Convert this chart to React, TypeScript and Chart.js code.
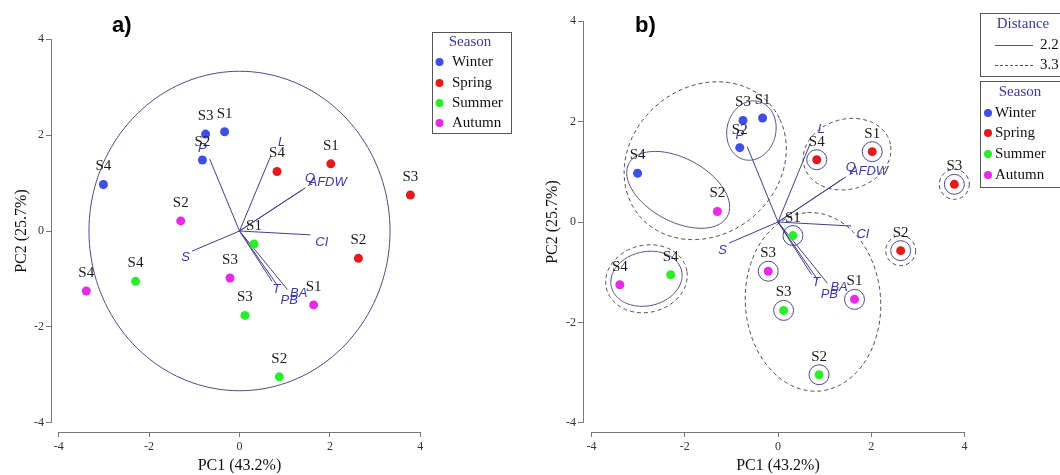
import React, { useEffect, useRef } from "react";
import { Chart, registerables } from "chart.js";

Chart.register(...registerables);

// ---------------- data ----------------
const seasonNames = ["Winter", "Spring", "Summer", "Autumn"];

const winterSites = ["S1", "S3", "S2", "S4"];
const winterPC1 = [-0.33, -0.75, -0.82, -3.01];
const winterPC2 = [2.07, 2.02, 1.48, 0.97];

const springSites = ["S1", "S4", "S3", "S2"];
const springPC1 = [2.02, 0.83, 3.78, 2.63];
const springPC2 = [1.4, 1.24, 0.75, -0.57];

const summerSites = ["S1", "S4", "S3", "S2"];
const summerPC1 = [0.32, -2.3, 0.12, 0.88];
const summerPC2 = [-0.27, -1.05, -1.76, -3.04];

const autumnSites = ["S2", "S4", "S3", "S1"];
const autumnPC1 = [-1.3, -3.39, -0.21, 1.64];
const autumnPC2 = [0.21, -1.25, -0.98, -1.54];

const variableNames = ["P", "L", "Q", "AFDW", "CI", "S", "T", "PB", "BA"];
const loadingPC1 = [-0.66, 0.69, 1.46, 1.39, 1.57, -1.05, 0.72, 0.85, 1.06];
const loadingPC2 = [1.5, 1.56, 0.9, 0.86, -0.08, -0.42, -1.05, -1.15, -1.22];
const variableLabelPC1 = [-0.82, 0.93, 1.56, 1.95, 1.82, -1.19, 0.82, 1.1, 1.31];
const variableLabelPC2 = [1.73, 1.85, 1.09, 1.01, -0.24, -0.56, -1.21, -1.45, -1.31];

const axisTicks = [-4, -2, 0, 2, 4];
const correlationCircleRadius = 3.33;

const distanceLevels = ["2.2", "3.3"];
// grouped-sample outlines for panel b (PC units)
const clusterLevel = ["3.3", "2.2", "2.2", "3.3", "2.2", "3.3", "3.3"];
const clusterCenterPC1 = [-1.56, -0.57, -2.14, 1.48, -2.82, -2.82, 0.75];
const clusterCenterPC2 = [1.22, 1.82, 0.64, 1.35, -1.13, -1.13, -1.59];
const clusterMajor = [1.8, 0.6, 1.18, 0.95, 0.77, 0.88, 1.78];
const clusterMinor = [1.5, 0.52, 0.64, 0.7, 0.54, 0.67, 1.45];
const clusterAngle = [28, 70, -25, 12, 10, 10, 95];
// single samples that form their own group (season index, site)
const single22Season = [1, 1, 1, 1, 2, 2, 2, 3, 3];
const single22Site = ["S4", "S1", "S3", "S2", "S1", "S3", "S2", "S3", "S1"];
const single33Season = [1, 1];
const single33Site = ["S3", "S2"];

// ---------------- styles ----------------
const seasonColors = ["#3d4fe4", "#e41b1e", "#2bee2b", "#e62ae6"];
const VEC = "#3f3f8e";
const VEC_TEXT = "#3b3ba6";
const SERIF = "'Liberation Serif', 'Times New Roman', serif";
const SANS = "'Liberation Sans', Arial, sans-serif";

const seasonData = [
  { sites: winterSites, pc1: winterPC1, pc2: winterPC2 },
  { sites: springSites, pc1: springPC1, pc2: springPC2 },
  { sites: summerSites, pc1: summerPC1, pc2: summerPC2 },
  { sites: autumnSites, pc1: autumnPC1, pc2: autumnPC2 },
];

function buildDatasets() {
  const ds: any[] = seasonNames.map((name, s) => ({
    label: name,
    data: seasonData[s].pc1.map((x, i) => ({ x, y: seasonData[s].pc2[i] })),
    backgroundColor: seasonColors[s],
    borderColor: seasonColors[s],
    borderWidth: 0,
    pointRadius: 4.5,
    pointHoverRadius: 4.5,
    showLine: false,
  }));
  variableNames.forEach((v, i) => {
    ds.push({
      label: v,
      data: [
        { x: 0, y: 0 },
        { x: loadingPC1[i], y: loadingPC2[i] },
      ],
      showLine: true,
      borderColor: VEC,
      backgroundColor: VEC,
      borderWidth: 1,
      pointRadius: 0,
      pointHoverRadius: 0,
    });
  });
  return ds;
}

function traceEllipse(ctx: CanvasRenderingContext2D, xs: any, ys: any, cx: number, cy: number, rx: number, ry: number, angDeg: number) {
  const a = (angDeg * Math.PI) / 180;
  ctx.beginPath();
  const n = 160;
  for (let i = 0; i <= n; i++) {
    const t = (i / n) * Math.PI * 2;
    const dx = rx * Math.cos(t) * Math.cos(a) - ry * Math.sin(t) * Math.sin(a);
    const dy = rx * Math.cos(t) * Math.sin(a) + ry * Math.sin(t) * Math.cos(a);
    const px = xs.getPixelForValue(cx + dx);
    const py = ys.getPixelForValue(cy + dy);
    if (i === 0) ctx.moveTo(px, py);
    else ctx.lineTo(px, py);
  }
  ctx.closePath();
  ctx.stroke();
}

function setStroke(ctx: CanvasRenderingContext2D, level: string) {
  if (level === distanceLevels[0]) {
    ctx.setLineDash([]);
    ctx.strokeStyle = "#4a4a90";
  } else {
    ctx.setLineDash([4, 3]);
    ctx.strokeStyle = "#4a4a4a";
  }
  ctx.lineWidth = 1;
}

function drawSeasonLegend(ctx: CanvasRenderingContext2D, bx: number, by: number, bw: number, bh: number, titleX: number, titleY: number, rowYs: number[], dotX: number, textX: number) {
  ctx.save();
  ctx.setLineDash([]);
  ctx.strokeStyle = "#555";
  ctx.lineWidth = 1;
  ctx.strokeRect(bx, by, bw, bh);
  ctx.font = `15px ${SERIF}`;
  ctx.textBaseline = "middle";
  ctx.textAlign = "center";
  ctx.fillStyle = "#3a3a9e";
  ctx.fillText("Season", titleX, titleY);
  ctx.textAlign = "left";
  seasonNames.forEach((name, s) => {
    ctx.fillStyle = seasonColors[s];
    ctx.beginPath();
    ctx.arc(dotX, rowYs[s], 4, 0, Math.PI * 2);
    ctx.fill();
    ctx.fillStyle = "#111";
    ctx.fillText(name, textX, rowYs[s]);
  });
  ctx.restore();
}

function makePlugin(panel: "a" | "b") {
  return {
    id: "pca_" + panel,
    beforeDatasetsDraw(chart: any) {
      const ctx: CanvasRenderingContext2D = chart.ctx;
      const xs = chart.scales.x;
      const ys = chart.scales.y;
      const ca = chart.chartArea;
      ctx.save();
      // detached axis lines (from -4 to 4)
      ctx.strokeStyle = "#777";
      ctx.lineWidth = 1;
      ctx.beginPath();
      const xl = Math.round(ca.left) + 0.5;
      const yb = Math.round(ca.bottom) + 0.5;
      ctx.moveTo(xs.getPixelForValue(axisTicks[0]), yb);
      ctx.lineTo(xs.getPixelForValue(axisTicks[axisTicks.length - 1]), yb);
      ctx.moveTo(xl, ys.getPixelForValue(axisTicks[0]));
      ctx.lineTo(xl, ys.getPixelForValue(axisTicks[axisTicks.length - 1]));
      ctx.stroke();

      if (panel === "a") {
        setStroke(ctx, distanceLevels[0]);
        traceEllipse(ctx, xs, ys, 0, 0, correlationCircleRadius, correlationCircleRadius, 0);
      } else {
        clusterLevel.forEach((lvl, i) => {
          setStroke(ctx, lvl);
          traceEllipse(ctx, xs, ys, clusterCenterPC1[i], clusterCenterPC2[i], clusterMajor[i], clusterMinor[i], clusterAngle[i]);
        });
        const ring = (seasonIdx: number, site: string, r: number, lvl: string) => {
          const d = seasonData[seasonIdx];
          const k = d.sites.indexOf(site);
          const el = chart.getDatasetMeta(seasonIdx).data[k];
          setStroke(ctx, lvl);
          ctx.beginPath();
          ctx.arc(el.x, el.y, r, 0, Math.PI * 2);
          ctx.stroke();
        };
        single22Season.forEach((s, i) => ring(s, single22Site[i], 10, distanceLevels[0]));
        single33Season.forEach((s, i) => ring(s, single33Site[i], 15, distanceLevels[1]));
      }
      ctx.restore();
    },
    afterDatasetsDraw(chart: any) {
      const ctx: CanvasRenderingContext2D = chart.ctx;
      const xs = chart.scales.x;
      const ys = chart.scales.y;
      ctx.save();
      // variable labels
      ctx.font = `italic 13px ${SANS}`;
      ctx.fillStyle = VEC_TEXT;
      ctx.textAlign = "center";
      ctx.textBaseline = "middle";
      variableNames.forEach((v, i) => {
        ctx.fillText(v, xs.getPixelForValue(variableLabelPC1[i]), ys.getPixelForValue(variableLabelPC2[i]));
      });
      // sample labels
      ctx.font = `15px ${SERIF}`;
      ctx.fillStyle = "#1a1a1a";
      seasonNames.forEach((_, s) => {
        const meta = chart.getDatasetMeta(s);
        meta.data.forEach((el: any, i: number) => {
          ctx.fillText(seasonData[s].sites[i], el.x, el.y - 18);
        });
      });

      // legends
      if (panel === "a") {
        drawSeasonLegend(ctx, 432.5, 32.5, 79, 101, 470, 42, [62, 83, 103, 123], 439.5, 452);
      } else {
        ctx.setLineDash([]);
        ctx.strokeStyle = "#555";
        ctx.lineWidth = 1;
        ctx.strokeRect(450.5, 13.5, 100, 63);
        ctx.font = `15px ${SERIF}`;
        ctx.textAlign = "center";
        ctx.fillStyle = "#3a3a9e";
        ctx.fillText("Distance", 493, 24);
        distanceLevels.forEach((lvl, i) => {
          const y = 45 + i * 20;
          ctx.save();
          ctx.strokeStyle = "#555";
          ctx.setLineDash(i === 0 ? [] : [3, 2]);
          ctx.beginPath();
          ctx.moveTo(465, y + 0.5);
          ctx.lineTo(503, y + 0.5);
          ctx.stroke();
          ctx.restore();
          ctx.textAlign = "left";
          ctx.fillStyle = "#111";
          ctx.fillText(lvl, 510, y);
        });
        drawSeasonLegend(ctx, 450.5, 81.5, 100, 106, 490, 92, [113, 133, 154, 175], 458, 465);
      }
      ctx.restore();
    },
  };
}

const panels = {
  a: { padTop: 30, padRight: 102, yWidth: 51, yTitlePad: 12, xMin: -4.17, xMax: 4.17, yMin: -4.19, yMax: 4.19 },
  b: { padTop: 12, padRight: 87, yWidth: 53, yTitlePad: 13, xMin: -4.18, xMax: 4.18, yMin: -4.18, yMax: 4.18 },
};

function makeConfig(panel: "a" | "b"): any {
  const p = panels[panel];
  const tickOpts = {
    color: "#333",
    font: { family: SERIF, size: 12 },
    padding: 3,
    maxRotation: 0,
    autoSkip: false,
  };
  const gridOpts = {
    display: true,
    drawOnChartArea: false,
    drawTicks: true,
    tickLength: 5,
    color: "#777",
  };
  return {
    type: "scatter",
    data: { datasets: buildDatasets() },
    options: {
      responsive: false,
      animation: false,
      events: [],
      layout: { autoPadding: false, padding: { left: 0, top: p.padTop, right: p.padRight, bottom: 0 } },
      plugins: { legend: { display: false }, tooltip: { enabled: false } },
      scales: {
        x: {
          type: "linear",
          position: "bottom",
          min: p.xMin,
          max: p.xMax,
          afterBuildTicks: (s: any) => {
            s.ticks = axisTicks.map((v) => ({ value: v }));
          },
          afterFit: (s: any) => {
            s.height = 43;
          },
          grid: gridOpts,
          border: { display: false },
          ticks: tickOpts,
          title: {
            display: true,
            text: "PC1 (43.2%)",
            color: "#111",
            font: { family: SERIF, size: 16 },
            padding: { top: 0, bottom: 0 },
          },
        },
        y: {
          type: "linear",
          position: "left",
          min: p.yMin,
          max: p.yMax,
          afterBuildTicks: (s: any) => {
            s.ticks = axisTicks.map((v) => ({ value: v }));
          },
          afterFit: (s: any) => {
            s.width = p.yWidth;
          },
          grid: gridOpts,
          border: { display: false },
          ticks: { ...tickOpts, padding: 2 },
          title: {
            display: true,
            text: "PC2 (25.7%)",
            color: "#111",
            font: { family: SERIF, size: 16 },
            padding: { top: p.yTitlePad, bottom: 0 },
          },
        },
      },
    },
    plugins: [makePlugin(panel)],
  };
}

function Panel({ panel, left }: { panel: "a" | "b"; left: number }) {
  const ref = useRef<HTMLCanvasElement>(null);
  useEffect(() => {
    const chart = new Chart(ref.current as HTMLCanvasElement, makeConfig(panel));
    return () => chart.destroy();
  }, [panel]);
  return (
    <canvas
      ref={ref}
      width={530}
      height={475}
      style={{ position: "absolute", left, top: 0, width: 530, height: 475 }}
    />
  );
}

const panelLabelStyle: React.CSSProperties = {
  position: "absolute",
  top: 14,
  fontFamily: SANS,
  fontWeight: 700,
  fontSize: 22,
  lineHeight: "22px",
  color: "#000",
};

export default function App() {
  return (
    <div
      style={{
        position: "fixed",
        left: 0,
        top: 0,
        width: 1060,
        height: 475,
        background: "#fff",
        overflow: "hidden",
      }}
    >
      <Panel panel="a" left={0} />
      <Panel panel="b" left={530} />
      <div style={{ ...panelLabelStyle, left: 112 }}>a)</div>
      <div style={{ ...panelLabelStyle, left: 635 }}>b)</div>
    </div>
  );
}
